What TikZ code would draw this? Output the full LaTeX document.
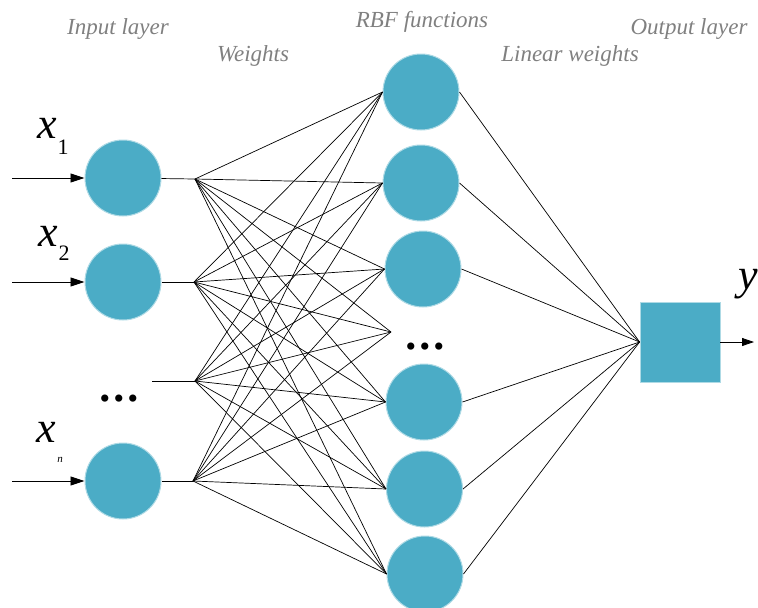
\documentclass[tikz,border=0pt]{standalone}
\usepackage{fontspec}
\setmainfont{Liberation Serif}
\usetikzlibrary{arrows.meta}
\definecolor{nodeblue}{HTML}{4BACC6}
\definecolor{labgray}{HTML}{808080}
\begin{document}
\begin{tikzpicture}[x=1pt,y=-1pt,
  neuron/.style={circle,fill=nodeblue,draw=nodeblue!45,line width=1pt,minimum size=76pt,inner sep=0pt},
  outbox/.style={rectangle,fill=nodeblue,draw=nodeblue!45,line width=0.8pt,minimum size=80pt,inner sep=0pt},
  conn/.style={black,line width=0.7pt},
  inarrow/.style={black,line width=0.8pt,-{Triangle[length=14pt,width=9pt]}},
  lab/.style={text=labgray,font=\fontsize{23}{23}\selectfont\itshape,inner sep=0pt},
  xlab/.style={font=\fontsize{44}{44}\selectfont\itshape,inner sep=0pt},
  sublab/.style={font=\fontsize{22}{22}\selectfont,inner sep=0pt},
  dots/.style={font=\fontsize{30}{30}\selectfont,inner sep=0pt}]
\useasboundingbox (0,0) rectangle (758,608);

% labels
\node[lab] (Linput) at (118,29) {Input layer};
\node[lab] (Lweights) at (253,56) {Weights};
\node[lab] (Lrbf) at (422,22) {RBF functions};
\node[lab] (Llin) at (570,56) {Linear weights};
\node[lab] (Lout) at (689,29) {Output layer};

% input nodes
\node[neuron] (i1) at (123,178) {};
\node[neuron] (i2) at (123,282) {};
\node[neuron] (i4) at (123,481) {};

\coordinate (a1) at (12,178);
\coordinate (a2) at (12,282);
\coordinate (a4) at (12,481);
\coordinate (s3) at (152,381);

\coordinate (f1) at (195,179);
\coordinate (f2) at (194,282);
\coordinate (f3) at (195,381);
\coordinate (f4) at (193,481);

\draw[inarrow] (a1) -- (i1);
\draw[inarrow] (a2) -- (i2);
\draw[inarrow] (a4) -- (i4);
\draw[conn] (i1) -- (f1);
\draw[conn] (i2) -- (f2);
\draw[conn] (s3) -- (f3);
\draw[conn] (i4) -- (f4);

% input labels
\node[xlab] (x1) at (47,128) {x};
\node[sublab] (x1s) at (63,147) {1};
\node[xlab] (x2) at (48,236) {x};
\node[sublab] (x2s) at (64,253) {2};
\node[xlab] (xn) at (46,432) {x};
\node[font=\fontsize{11}{11}\selectfont\itshape,inner sep=0pt] (xns) at (60,460) {n};
\node[dots] (d1) at (119,402) {•\hspace{3.5pt}•\hspace{3.5pt}•};

% RBF nodes
\node[neuron] (r1) at (421,92) {};
\node[neuron] (r2) at (421,183) {};
\node[neuron] (r3) at (423,269) {};
\node[neuron] (r5) at (424,402) {};
\node[neuron] (r6) at (424.5,489) {};
\node[neuron] (r7) at (425,574) {};
\coordinate (r4) at (391,332);
\node[dots] (d2) at (425,350) {•\hspace{3.5pt}•\hspace{3.5pt}•};

% weights
\foreach \f in {f1,f2,f3,f4}{
  \foreach \r in {r1,r2,r3,r5,r6,r7}{
    \draw[conn] (\f) -- (\r.west);
  }
  \draw[conn] (\f) -- (r4);
}

% output
\node[outbox] (o) at (680,342) {};
\foreach \r in {r1,r2,r3,r5,r6,r7}{
  \draw[conn] (\r.east) -- (o.west);
}
\coordinate (oend) at (754,342);
\draw[black,line width=0.8pt,-{Triangle[length=12pt,width=8pt]}] (o) -- (oend);
\node[xlab] (yl) at (748,284) {y};
\end{tikzpicture}
\end{document}
